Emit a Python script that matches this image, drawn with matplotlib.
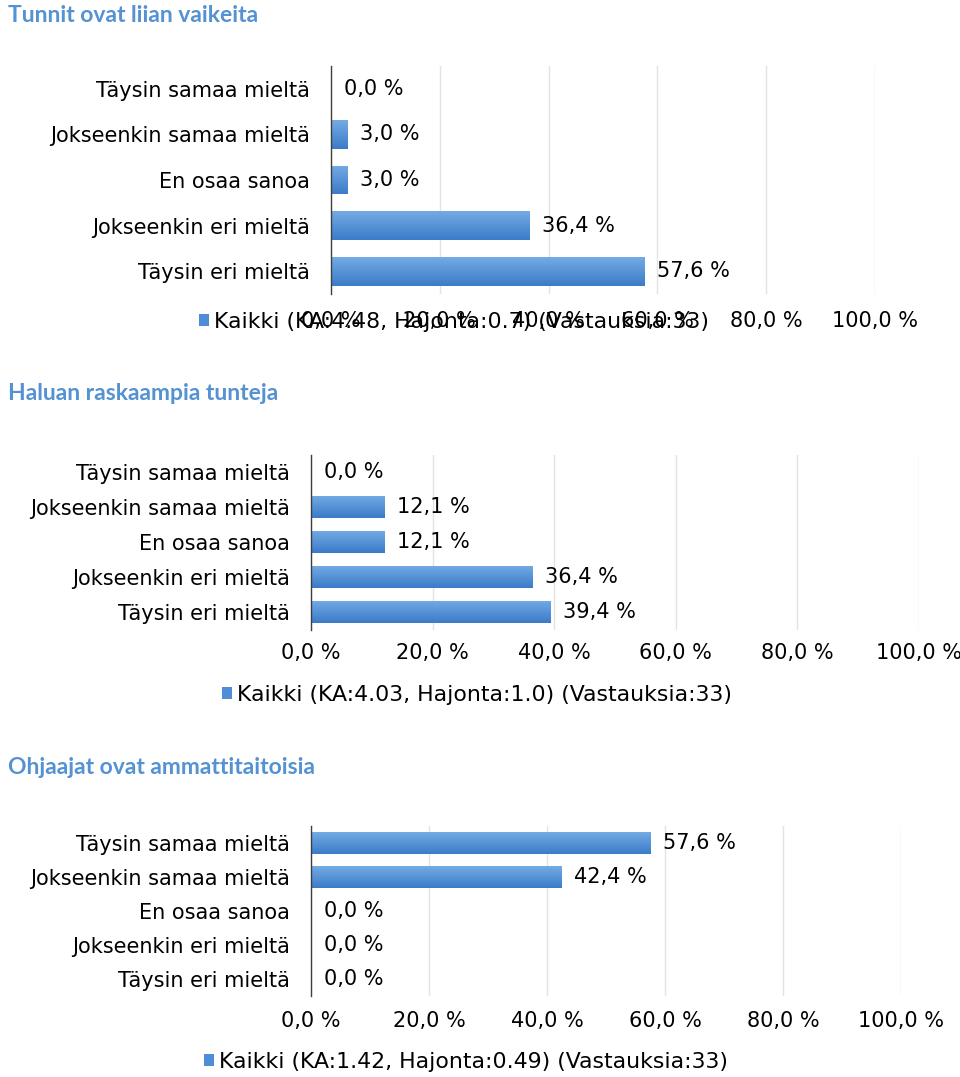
import numpy as np
import matplotlib
matplotlib.use("Agg")
import matplotlib.pyplot as plt
from matplotlib.patches import Rectangle
from matplotlib.ticker import FuncFormatter
from matplotlib.colors import to_rgb

# ---------------- data ----------------
categories = ["Täysin samaa mieltä", "Jokseenkin samaa mieltä", "En osaa sanoa",
              "Jokseenkin eri mieltä", "Täysin eri mieltä"]
titles = ["Tunnit ovat liian vaikeita", "Haluan raskaampia tunteja",
          "Ohjaajat ovat ammattitaitoisia"]
values_1 = [0.0, 3.0, 3.0, 36.4, 57.6]
values_2 = [0.0, 12.1, 12.1, 36.4, 39.4]
values_3 = [57.6, 42.4, 0.0, 0.0, 0.0]
legend_labels = ["Kaikki (KA:4.48, Hajonta:0.7) (Vastauksia:33)",
                 "Kaikki (KA:4.03, Hajonta:1.0) (Vastauksia:33)",
                 "Kaikki (KA:1.42, Hajonta:0.49) (Vastauksia:33)"]
x_ticks = [0, 20, 40, 60, 80, 100]

# ---------------- style ----------------
W, H = 960, 1077
FS = 15
FS_LEG = 15.8
FONT = "DejaVu Sans"
TITLE_COLOR = "#5592D2"
BAR_TOP = "#74ABE4"
BAR_BOT = "#3B7BC8"
BAR_MID = "#4F8ED6"
GRID = "#E3E3E3"
SPINE = "#404040"

plt.rcParams["font.family"] = [FONT]

fig = plt.figure(figsize=(W / 100, H / 100), dpi=100)
fig.patch.set_facecolor("white")

def fx(px):
    return px / W

def fy(py):
    return 1 - py / H

# panel layout in pixels: (left, right, top, bottom)
panels = [
    (331, 875, 66, 294),
    (311, 919, 454.5, 629.5),
    (311, 901, 826, 996),
]
tick_pads = [12, 10, 10.5]
legend_pos = [(199, 322), (222, 695), (204, 1062)]
title_pos = [15, 393, 767]
all_values = [values_1, values_2, values_3]

def fmt(v, pos=None):
    return f"{v:.1f}".replace(".", ",") + " %"

grad = np.linspace(0, 1, 64)[:, None, None]
c_top = np.array(to_rgb(BAR_TOP))
c_bot = np.array(to_rgb(BAR_BOT))
grad_img = c_top * (1 - grad) + c_bot * grad

for i in range(3):
    l, r, t, b = panels[i]
    ax = fig.add_axes([fx(l), fy(b), (r - l) / W, (b - t) / H])
    vals = all_values[i]
    y = np.arange(len(categories))
    bars = ax.barh(y, vals, height=0.63, color=BAR_MID, zorder=2, linewidth=0)
    for bar in bars:
        bx, by = bar.get_x(), bar.get_y()
        bw, bh = bar.get_width(), bar.get_height()
        if bw <= 0:
            continue
        im = ax.imshow(grad_img, extent=(bx, bx + bw, by + bh, by), origin="upper",
                       aspect="auto", zorder=3, interpolation="bilinear")
        im.set_clip_path(bar)
    ax.bar_label(bars, labels=[fmt(v) for v in vals], padding=9,
                 fontsize=FS, color="black", zorder=4)
    ax.set_xlim(0, 100)
    ax.set_ylim(len(categories) - 0.5, -0.5)
    ax.set_yticks(y)
    ax.set_yticklabels(categories, fontsize=FS, color="black")
    ax.set_xticks(x_ticks)
    ax.xaxis.set_major_formatter(FuncFormatter(fmt))
    ax.tick_params(axis="x", length=0, pad=tick_pads[i], labelsize=FS, colors="black")
    ax.tick_params(axis="y", length=0, pad=15)
    ax.grid(axis="x", color=GRID, linewidth=1, zorder=0)
    ax.set_axisbelow(True)
    for s in ["top", "right", "bottom"]:
        ax.spines[s].set_visible(False)
    ax.spines["left"].set_color(SPINE)
    ax.spines["left"].set_linewidth(1)
    ax.spines["left"].set_zorder(5)
    ax.set_facecolor("none")

    handle = Rectangle((0, 0), 1, 1, facecolor=BAR_MID, edgecolor="none")
    lx, ly = legend_pos[i]
    fig.legend([handle], [legend_labels[i]], loc="center left",
               bbox_to_anchor=(fx(lx), fy(ly)), frameon=False, fontsize=FS_LEG,
               handlelength=0.45, handleheight=0.45, handletextpad=0.25,
               borderpad=0, borderaxespad=0)

    fig.text(fx(8), fy(title_pos[i]), titles[i], fontsize=16.5, fontweight="bold",
             family=["Lato", "DejaVu Sans"], color=TITLE_COLOR, ha="left", va="center")

fig.savefig("out.png", dpi=100)
